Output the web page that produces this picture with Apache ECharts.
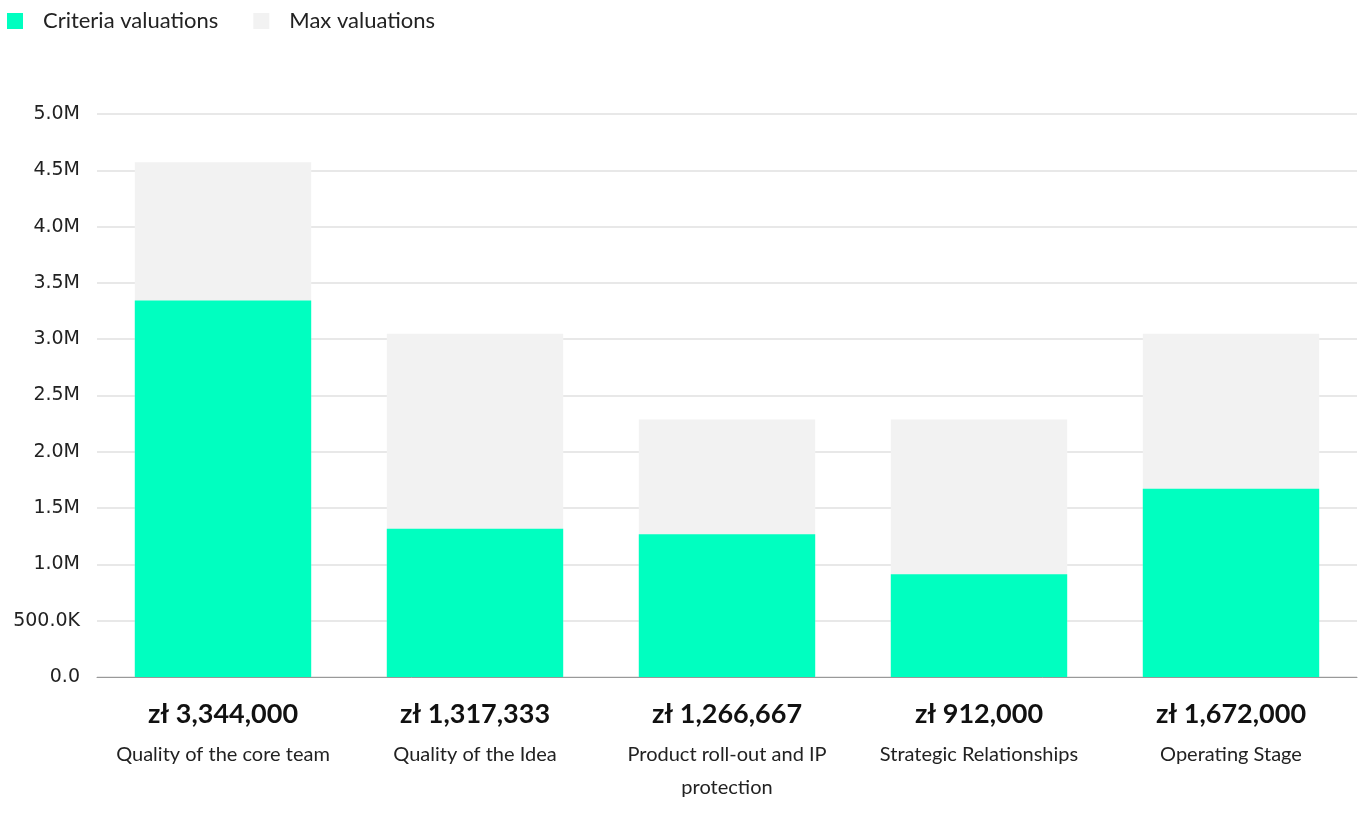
<!DOCTYPE html>
<html>
<head>
<meta charset="utf-8">
<script src="https://cdn.jsdelivr.net/npm/echarts@6/dist/echarts.min.js"></script>
<style>
html,body{margin:0;padding:0;background:#fff;}
#chart{width:1363px;height:821px;}
</style>
</head>
<body>
<div id="chart"></div>
<script>
const categories = ['Quality of the core team', 'Quality of the Idea', 'Product roll-out and IP protection', 'Strategic Relationships', 'Operating Stage'];
const criteriaValues = [3344000, 1317333, 1266667, 912000, 1672000];
const maxValues = [4572000, 3048000, 2286000, 2286000, 3048000];

function fmtY(v) {
  if (v === 0) return '0.0';
  if (v >= 1000000) return (v / 1000000).toFixed(1) + 'M';
  return (v / 1000).toFixed(1) + 'K';
}

function wrapName(name, limit) {
  const words = name.split(' ');
  const lines = [];
  let cur = '';
  words.forEach(function (w) {
    const t = cur ? cur + ' ' + w : w;
    if (t.length > limit && cur) { lines.push(cur); cur = w; }
    else cur = t;
  });
  if (cur) lines.push(cur);
  return lines;
}

const chart = echarts.init(document.getElementById('chart'));
chart.setOption({
  animation: false,
  legend: {
    left: 2, top: 5,
    icon: 'rect',
    itemWidth: 16, itemHeight: 16,
    itemGap: 35,
    textStyle: { fontFamily: 'Lato', fontSize: 22, color: '#222', padding: [0, 0, 0, 15] },
    data: ['Criteria valuations', 'Max valuations']
  },
  grid: { left: 97, right: 6, top: 114, bottom: 144 },
  xAxis: {
    type: 'category',
    data: categories,
    axisLine: { lineStyle: { color: '#999', width: 1 } },
    axisTick: { show: false },
    axisLabel: {
      interval: 0,
      margin: 14,
      formatter: function (name, idx) {
        const lines = wrapName(name, 24).map(function (l) { return '{n|' + l + '}'; });
        return '{v|zł ' + criteriaValues[idx].toLocaleString('en-US') + '}\n' + lines.join('\n');
      },
      rich: {
        v: { fontFamily: 'Lato', fontWeight: 'bold', fontSize: 27, color: '#111', lineHeight: 47 },
        n: { fontFamily: 'Lato', fontSize: 20, color: '#222', lineHeight: 33 }
      }
    }
  },
  yAxis: {
    type: 'value',
    min: 0, max: 5000000, interval: 500000,
    axisLine: { show: false },
    axisTick: { show: false },
    splitLine: { lineStyle: { color: '#e0e0e0', width: 1.5 } },
    axisLabel: {
      margin: 17,
      fontFamily: 'DejaVu Sans', fontSize: 19, color: '#222',
      formatter: fmtY
    }
  },
  series: [
    {
      name: 'Max valuations',
      type: 'bar',
      data: maxValues,
      barWidth: '70%',
      itemStyle: { color: '#f2f2f2' },
      z: 1
    },
    {
      name: 'Criteria valuations',
      type: 'bar',
      data: criteriaValues,
      barWidth: '70%',
      barGap: '-100%',
      itemStyle: { color: '#00ffc0' },
      z: 2
    }
  ]
});
</script>
</body>
</html>
